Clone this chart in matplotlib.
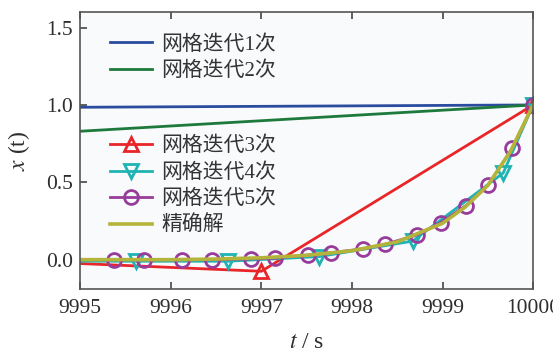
import matplotlib
matplotlib.use("Agg")
import matplotlib.pyplot as plt

# Grid iteration results for x(t) near the end of the time window
t_iter1 = [9995, 10000]
x_iter1 = [0.985, 1.0]

t_iter2 = [9995, 10000]
x_iter2 = [0.83, 1.0]

t_iter3 = [9994, 9997, 10000]
x_iter3 = [0.0, -0.075, 1.0]

t_iter4 = [9994.62, 9995.62, 9996.63, 9997.64, 9998.67, 9999.67, 10000]
x_iter4 = [-0.01, -0.01, -0.01, 0.02, 0.12, 0.56, 1.0]

t_iter5 = [9995.05, 9995.37, 9995.70, 9996.12, 9996.45, 9996.89, 9997.15,
           9997.51, 9997.77, 9998.12, 9998.37, 9998.72, 9998.98,
           9999.26, 9999.50, 9999.77, 10000]
x_iter5 = [0.0, 0.0, 0.0, 0.0, 0.0, 0.005, 0.01,
           0.03, 0.045, 0.07, 0.10, 0.16, 0.24,
           0.35, 0.48, 0.72, 1.0]

t_exact = [9995, 9995.5, 9996, 9996.5, 9997, 9997.5, 9998, 9998.5,
           9999, 9999.25, 9999.5, 9999.75, 10000]
x_exact = [0.0, 0.0, 0.0, 0.004, 0.012, 0.028, 0.058, 0.115,
           0.235, 0.34, 0.48, 0.70, 1.0]

xticks = [9995, 9996, 9997, 9998, 9999, 10000]
yticks = [0.0, 0.5, 1.0, 1.5]

serif = ["Liberation Serif", "Noto Sans CJK SC"]
plt.rcParams["font.family"] = serif
plt.rcParams["mathtext.fontset"] = "stix"

fig = plt.figure(figsize=(5.53, 3.56), dpi=100)
ax = fig.add_axes([0.145, 0.188, 0.819, 0.778])
ax.set_facecolor("#f8fafb")

lw = 2.0
l1, = ax.plot(t_iter1, x_iter1, color="#2b4c9e", lw=lw, label="网格迭代1次")
l2, = ax.plot(t_iter2, x_iter2, color="#1e7a3c", lw=lw, label="网格迭代2次")
l3, = ax.plot(t_iter3, x_iter3, color="#e8262a", lw=lw, marker="^", ms=10,
              mfc="none", mew=2.0, label="网格迭代3次")
l4, = ax.plot(t_iter4, x_iter4, color="#1fb3b3", lw=lw, marker="v", ms=10,
              mfc="none", mew=2.0, label="网格迭代4次")
l5, = ax.plot(t_iter5, x_iter5, color="#983c9c", lw=lw, marker="o", ms=10,
              mfc="none", mew=2.0, markevery=list(range(1, len(t_iter5))),
              label="网格迭代5次")
l6, = ax.plot(t_exact, x_exact, color="#b4b43a", lw=2.6, label="精确解")

ax.set_xlim(9995, 10000)
ax.set_ylim(-0.19, 1.6)
ax.set_xticks(xticks)
ax.set_yticks(yticks)
ax.set_xticklabels([str(v) for v in xticks])
ax.set_yticklabels([f"{v:.1f}" for v in yticks])
ax.tick_params(axis="both", direction="in", labelsize=15.5, length=5,
               width=1.2, color="#444444", labelcolor="#2e2e2e",
               top=True, right=False)
ax.tick_params(axis="x", pad=7)
ax.tick_params(axis="y", pad=5)
for s in ax.spines.values():
    s.set_color("#555555")
    s.set_linewidth(1.2)

ax.set_xlabel(r"$t$ / s", fontsize=17, color="#2e2e2e", labelpad=10)
ax.set_ylabel(r"$x$ (t)", fontsize=17, color="#2e2e2e", labelpad=10)

leg_kw = dict(frameon=False, handlelength=2.0, handletextpad=0.45,
              labelspacing=0.33, borderaxespad=0.0, borderpad=0.0,
              prop={"family": serif, "size": 15})
leg1 = ax.legend(handles=[l1, l2], loc="upper left",
                 bbox_to_anchor=(0.066, 0.917), **leg_kw)
for txt in leg1.get_texts():
    txt.set_color("#333333")
ax.add_artist(leg1)
leg2 = ax.legend(handles=[l3, l4, l5, l6], loc="upper left",
                 bbox_to_anchor=(0.066, 0.55), **leg_kw)
for txt in leg2.get_texts():
    txt.set_color("#333333")

fig.savefig("out.png", dpi=100)
